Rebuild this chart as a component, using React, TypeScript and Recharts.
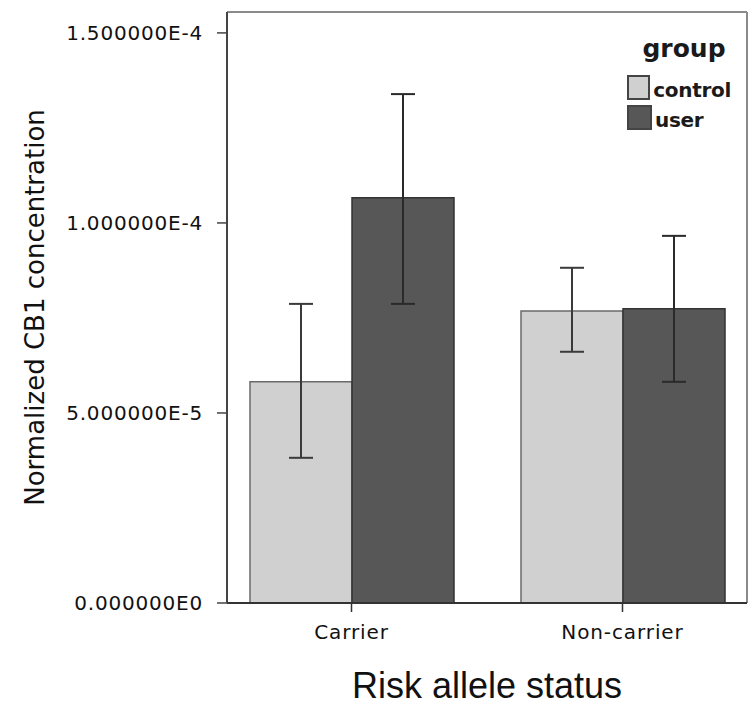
import {
  BarChart,
  Bar,
  XAxis,
  YAxis,
  CartesianGrid,
  ErrorBar,
  Legend,
} from "recharts";

const categories = ["Carrier", "Non-carrier"];
const groups = ["control", "user"];

// means and 95% CI bounds
const controlMean = [5.82e-5, 7.68e-5];
const controlLower = [3.82e-5, 6.61e-5];
const controlUpper = [7.87e-5, 8.82e-5];
const userMean = [1.066e-4, 7.74e-5];
const userLower = [7.87e-5, 5.82e-5];
const userUpper = [1.339e-4, 9.66e-5];

const yTicks = [0, 5e-5, 1e-4, 1.5e-4];

const data = categories.map((status, i) => ({
  status,
  control: controlMean[i],
  controlErr: [controlMean[i] - controlLower[i], controlUpper[i] - controlMean[i]],
  user: userMean[i],
  userErr: [userMean[i] - userLower[i], userUpper[i] - userMean[i]],
}));

const FONT = "'DejaVu Sans', sans-serif";

const formatTick = (v: number) =>
  v.toExponential(6).toUpperCase().replace("E+", "E");

const GroupLegend = ({ payload }: any) => (
  <div style={{ fontFamily: FONT, color: "#1a1a1a", width: 104 }}>
    <div
      style={{
        fontSize: 25,
        fontWeight: "bold",
        textAlign: "center",
        paddingLeft: 10,
        paddingTop: 3,
        lineHeight: "29px",
        marginBottom: 12,
      }}
    >
      group
    </div>
    {(payload || []).map((item: any) => (
      <div
        key={item.value}
        style={{ display: "flex", height: 25, marginBottom: 5 }}
      >
        <span
          style={{
            display: "inline-block",
            width: 21,
            height: 21,
            background: item.color,
            border: "2px solid #444",
            marginRight: 3,
          }}
        />
        <span
          style={{
            fontSize: 20,
            fontWeight: "bold",
            letterSpacing: -0.3,
            lineHeight: "25px",
            position: "relative",
            top: 3,
          }}
        >
          {item.value}
        </span>
      </div>
    ))}
  </div>
);

export default function App() {
  return (
    <div style={{ position: "absolute", left: 0, top: 0, background: "#fff" }}>
      <BarChart
        width={749}
        height={706}
        data={data}
        margin={{ top: 12, right: 2, left: 0, bottom: 0 }}
        barCategoryGap={34}
        barGap={0}
      >
        <CartesianGrid
          stroke="#8a8a8a"
          strokeWidth={2}
          horizontalCoordinatesGenerator={({ offset }: any) => [offset.top]}
          verticalCoordinatesGenerator={({ offset }: any) => [
            offset.left + offset.width,
          ]}
        />
        <XAxis
          dataKey="status"
          height={103}
          padding={{ left: -11, right: -11 }}
          axisLine={{ stroke: "#333", strokeWidth: 2 }}
          tickLine={{ stroke: "#333", strokeWidth: 1.5 }}
          tickSize={9}
          tickMargin={13}
          tick={{ fontSize: 20, fill: "#111", fontFamily: FONT, letterSpacing: 0.9 }}
          label={{
            value: "Risk allele status",
            position: "insideBottom",
            offset: 8,
            fontSize: 36,
            fill: "#111",
            fontFamily: "'Liberation Sans', Arial, sans-serif",
          }}
        />
        <YAxis
          width={227}
          domain={[0, 1.555e-4]}
          ticks={yTicks}
          tickFormatter={formatTick}
          axisLine={{ stroke: "#444", strokeWidth: 2 }}
          tickLine={{ stroke: "#444", strokeWidth: 1.5 }}
          tickSize={10}
          tickMargin={14}
          tick={{ fontSize: 20, fill: "#111", fontFamily: FONT, letterSpacing: 0.8 }}
          label={{
            value: "Normalized CB1 concentration",
            angle: -90,
            position: "insideLeft",
            offset: 35,
            textAnchor: "middle",
            fontSize: 26,
            fill: "#111",
            fontFamily: FONT,
          }}
        />
        <Legend
          layout="horizontal"
          align="center"
          verticalAlign="middle"
          wrapperStyle={{ left: 627, top: 31, width: "auto" }}
          content={<GroupLegend />}
        />
        <Bar
          dataKey="control"
          name={groups[0]}
          fill="#d0d0d0"
          stroke="#6a6a6a"
          strokeWidth={1.5}
          isAnimationActive={false}
        >
          <ErrorBar dataKey="controlErr" width={12} stroke="#3a3a3a" strokeWidth={2} />
        </Bar>
        <Bar
          dataKey="user"
          name={groups[1]}
          fill="#575757"
          stroke="#333"
          strokeWidth={1.5}
          isAnimationActive={false}
        >
          <ErrorBar dataKey="userErr" width={12} stroke="#2a2a2a" strokeWidth={2} />
        </Bar>
      </BarChart>
    </div>
  );
}
